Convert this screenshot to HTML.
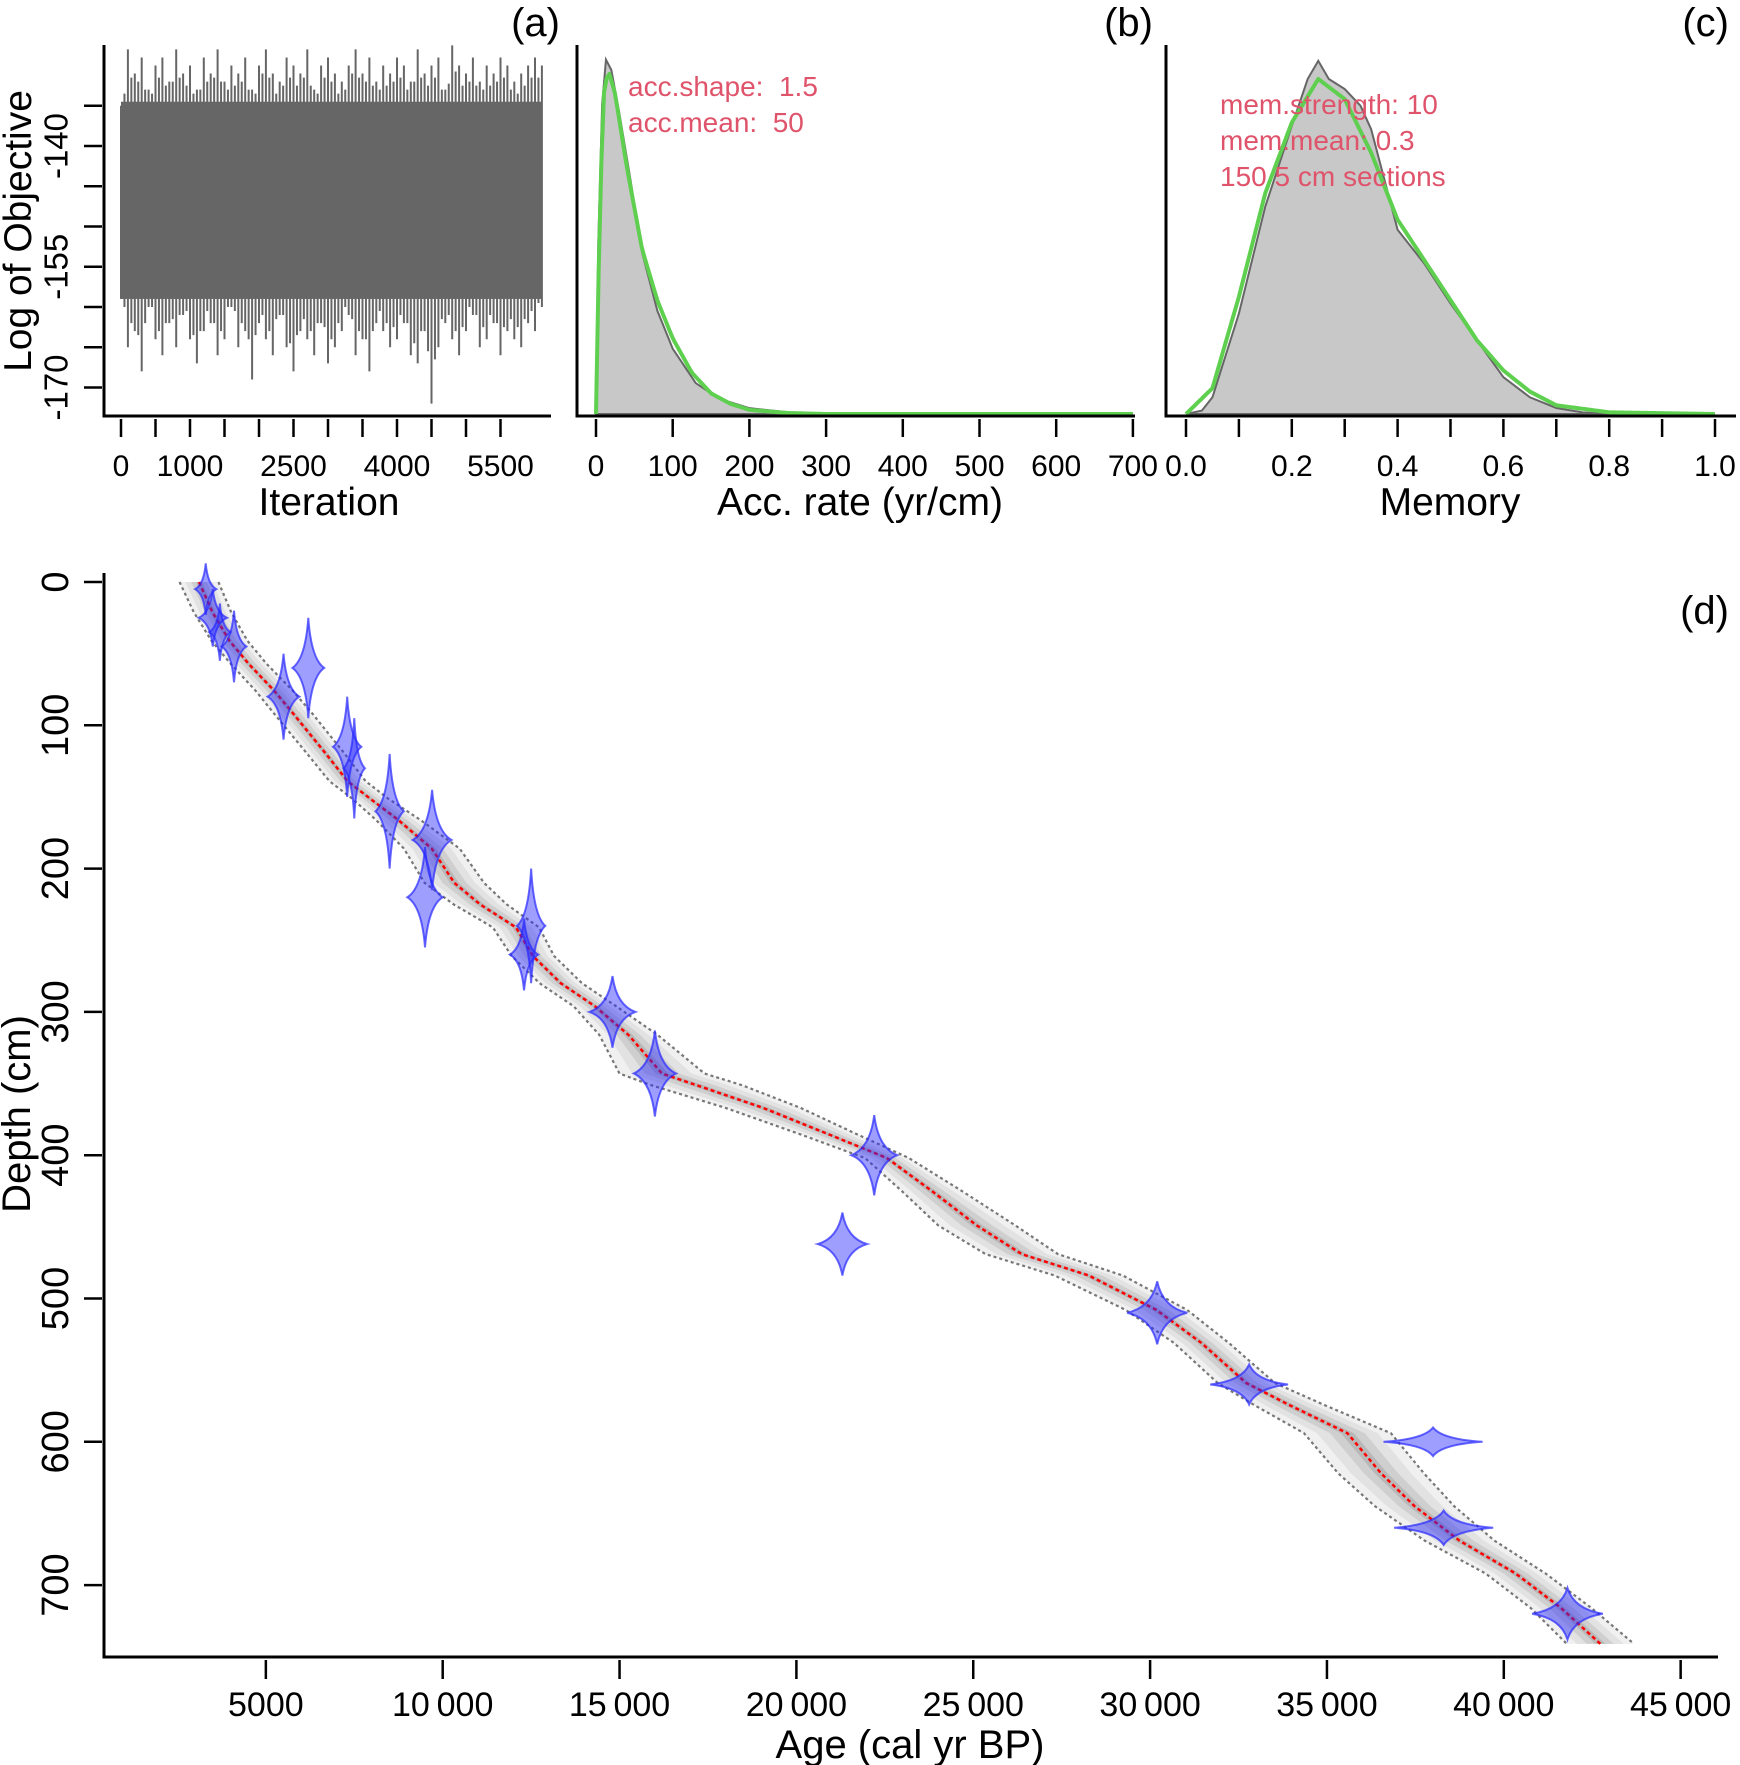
<!DOCTYPE html>
<html><head><meta charset="utf-8"><style>
body{margin:0;background:#fff}
svg{display:block;font-family:"Liberation Sans",Arial,sans-serif}
</style></head><body>
<svg id="fig" width="1740" height="1765" viewBox="0 0 1740 1765" xmlns="http://www.w3.org/2000/svg">
<g id="pa"></g>
<g id="pb"></g>
<g id="pc"></g>
<g id="pd"></g>
</svg>
<script>
// ---------- data ----------
const traceIter = [];
for (let i = 0; i <= 6100; i += 100) traceIter.push(i);
const traceHi = [-135,-128,-131,-129,-133,-130,-129,-132,-128,-131,-130,-133,-129,-131,-128,-132,-130,-131,-129,-133,-130,-128,-131,-132,-129,-130,-131,-128,-133,-130,-129,-131,-132,-130,-128,-131,-129,-132,-130,-131,-129,-130,-132,-128,-131,-130,-129,-133,-127.5,-130,-131,-129,-132,-130,-131,-129,-130,-132,-131,-130,-129,-130];
const traceLo = [-159,-165,-163,-168,-160,-164,-166,-162,-165,-161,-164,-167,-163,-162,-166,-164,-160,-165,-163,-169,-162,-164,-166,-161,-165,-168,-163,-164,-166,-162,-167,-165,-163,-161,-166,-164,-168,-162,-163,-165,-164,-162,-166,-167,-163,-172,-165,-162,-164,-166,-163,-161,-165,-164,-162,-166,-163,-164,-165,-162,-163,-160];
const traceTicks = [-135,-140,-145,-150,-155,-160,-165,-170];
const traceTickLabels = ["-140","-155","-170"];
const iterTicks = [0,500,1000,1500,2000,2500,3000,3500,4000,4500,5000,5500];
const iterTickLabels = ["0","1000","2500","4000","5500"];
const accX = [0,5,10,16,25,40,60,80,100,125,150,175,200,250,300,700];
const accPrior = [0,0.6,0.93,1,0.93,0.72,0.48,0.33,0.22,0.12,0.06,0.03,0.012,0.003,0,0];
const accPostX = [0,3,8,13,20,30,45,60,80,100,130,160,200,250,300,700];
const accPost = [0,0.5,0.9,1.03,1.0,0.88,0.68,0.47,0.3,0.19,0.09,0.045,0.017,0.005,0.001,0];
const accTicks = [0,100,200,300,400,500,600,700];
const memX = [0,0.05,0.1,0.15,0.2,0.25,0.3,0.35,0.4,0.45,0.5,0.55,0.6,0.65,0.7,0.8,1.0];
const memPrior = [0,0.077,0.35,0.66,0.87,1,0.94,0.78,0.58,0.46,0.34,0.22,0.13,0.067,0.026,0.005,0];
const memPostX = [0,0.03,0.05,0.1,0.15,0.2,0.23,0.25,0.27,0.3,0.33,0.35,0.4,0.45,0.5,0.55,0.6,0.65,0.7,0.75,0.8,1.0];
const memPost = [0,0.01,0.05,0.3,0.62,0.86,1.0,1.054,1.0,0.97,0.92,0.85,0.55,0.45,0.33,0.22,0.11,0.05,0.018,0.005,0,0];
const memTicks = [0,0.1,0.2,0.3,0.4,0.5,0.6,0.7,0.8,0.9,1.0];
const memTickLabels = ["0.0","0.2","0.4","0.6","0.8","1.0"];
const modelDepth = [0,21,41,57,76,92,119,139,151,166,186,210,225,241,261,280,296,316,343,351,367,386,402,425,449,469,484,508,531,559,575,594,622,645,669,692,716,741];
const modelAge = [3110,3490,3970,4510,5240,5780,6670,7310,7940,8740,9690,10330,11060,12070,12550,13340,14300,15250,16200,17160,19060,20970,22560,23830,25100,26370,28270,30180,31450,32720,33990,35580,36530,37480,38750,40340,41620,42730];
const bandDepth = [0,50,100,150,200,250,300,350,400,450,500,550,600,650,700,741];
const bandHalf = [550,500,550,500,900,600,600,1300,600,1100,900,700,1300,1100,800,950];
const datAge = [3300,3500,3700,4100,5500,6200,7300,7500,8500,9700,9500,12500,12300,14800,16000,22200,21300,30200,32800,38000,38300,41800];
const datDepth = [5,25,35,45,80,60,115,130,160,180,220,240,260,300,343,400,462,510,560,600,660,720];
const datHalfAge = [300,400,300,350,450,450,400,300,400,550,500,400,400,650,600,650,700,850,1100,1400,1400,1000];
const datHalfDepth = [18,20,20,25,30,35,35,35,40,35,35,40,25,25,30,28,22,22,14,10,12,18];
const ageTicks = [5000,10000,15000,20000,25000,30000,35000,40000,45000];
const ageTickLabels = ["5000","10\u2009000","15\u2009000","20\u2009000","25\u2009000","30\u2009000","35\u2009000","40\u2009000","45\u2009000"];
const depthTicks = [0,100,200,300,400,500,600,700];

// ---------- helpers ----------
const NS = "http://www.w3.org/2000/svg";
function mk(parent, tag, attrs, txt) {
  const e = document.createElementNS(NS, tag);
  for (const k in attrs) e.setAttribute(k, attrs[k]);
  if (txt !== undefined) e.textContent = txt;
  parent.appendChild(e);
  return e;
}
function interp(xs, ys, x) {
  if (x <= xs[0]) return ys[0];
  for (let i = 1; i < xs.length; i++) if (x <= xs[i]) { const t = (x - xs[i-1]) / (xs[i] - xs[i-1]); return ys[i-1] + t * (ys[i] - ys[i-1]); }
  return ys[ys.length - 1];
}
const TICKF = 30, TITLEF = 39, DTICKF = 34;

// ---------- panel a ----------
const pa = document.getElementById('pa');
const ax = v => 121 + v * 0.069;
const ay = v => 146 + (-140 - v) * 8.05;
for (let i = 0; i < traceIter.length; i++) {
  const l = mk(pa, 'line', {x1: ax(traceIter[i]), x2: ax(traceIter[i]), y1: ay(traceHi[i]), y2: ay(traceLo[i]), stroke: '#666', 'stroke-width': 2});
  
  
  if (i < traceIter.length - 1) {
    const xm = ax(traceIter[i] + 50);
    const h2 = (traceHi[i] + traceHi[i+1]) / 2 - 2, l2 = (traceLo[i] + traceLo[i+1]) / 2 + 2;
    const l3 = mk(pa, 'line', {x1: xm, x2: xm, y1: ay(h2), y2: ay(l2), stroke: '#666', 'stroke-width': 2});
    
    
  }
}
const core = mk(pa, 'rect', {x: ax(0), y: ay(-134.5), width: ax(6100) - ax(0), height: ay(-159) - ay(-134.5), fill: '#666'});


mk(pa, 'path', {d: 'M104,45 V416 H551', fill: 'none', stroke: '#000', 'stroke-width': 3,  });
traceTicks.forEach(v => {
  const t = mk(pa, 'line', {x1: 84, x2: 102, y1: ay(v), y2: ay(v), stroke: '#000', 'stroke-width': 2.5});
  
  
});
traceTickLabels.forEach(s => {
  const v = +s;
  const t = mk(pa, 'text', {x: 56, y: ay(v), 'font-size': 33, 'text-anchor': 'middle', 'dominant-baseline': 'central', transform: `rotate(-90 56 ${ay(v)})`}, s);
  
  
});
iterTicks.forEach(v => {
  const t = mk(pa, 'line', {x1: ax(v), x2: ax(v), y1: 419, y2: 437, stroke: '#000', 'stroke-width': 2.5});
  
  
});
iterTickLabels.forEach(s => {
  const t = mk(pa, 'text', {x: ax(+s), y: 476, 'font-size': TICKF, 'text-anchor': 'middle'}, s);
  
  
});
mk(pa, 'text', {x: 329, y: 515, 'font-size': TITLEF, 'text-anchor': 'middle',  }, 'Iteration');
mk(pa, 'text', {x: 31, y: 231, 'font-size': TITLEF, 'text-anchor': 'middle', transform: 'rotate(-90 31 231)',  }, 'Log of Objective');
mk(pa, 'text', {x: 560, y: 36, 'font-size': 40, 'text-anchor': 'end',  }, '(a)');

function densityPanel(g, xs, prior, pxs, post, X, base, peakY, name) {
  const Y = v => base - v * (base - peakY);
  let d = `M${X(pxs[0])},${base}`;
  pxs.forEach((x, i) => d += ` L${X(x)},${Y(post[i])}`);
  d += ` L${X(pxs[pxs.length-1])},${base} Z`;
  const p = mk(g, 'path', {d: d, fill: '#c8c8c8', stroke: '#666', 'stroke-width': 2});
  
  
  let d2 = '';
  const N = 200, x0 = xs[0], x1 = xs[xs.length-1];
  for (let k = 0; k <= N; k++) { const x = x0 + (x1 - x0) * k / N; d2 += (k ? ' L' : 'M') + X(x) + ',' + Y(interp(xs, prior, x)); }
  const q = mk(g, 'path', {d: d2, fill: 'none', stroke: '#5fcf4f', 'stroke-width': 4, 'stroke-linejoin': 'round'});
  
  
}

// ---------- panel b ----------
const pb = document.getElementById('pb');
const bx = v => 596 + v * 0.767;
densityPanel(pb, accX, accPrior, accPostX, accPost, bx, 414, 70, 'acc-rate');
mk(pb, 'path', {d: 'M577,45 V416 H1135', fill: 'none', stroke: '#000', 'stroke-width': 3,  });
accTicks.forEach(v => {
  const t = mk(pb, 'line', {x1: bx(v), x2: bx(v), y1: 419, y2: 437, stroke: '#000', 'stroke-width': 2.5});
  
  
  const s = mk(pb, 'text', {x: bx(v), y: 476, 'font-size': TICKF, 'text-anchor': 'middle'}, String(v));
  
  
});
mk(pb, 'text', {x: 860, y: 515, 'font-size': TITLEF, 'text-anchor': 'middle',  }, 'Acc. rate (yr/cm)');
mk(pb, 'text', {x: 628, y: 96, 'font-size': 28, fill: '#df536b',  }, 'acc.shape:\u00a0\u00a01.5');
mk(pb, 'text', {x: 628, y: 132, 'font-size': 28, fill: '#df536b',  }, 'acc.mean:\u00a0\u00a050');
mk(pb, 'text', {x: 1153, y: 36, 'font-size': 40, 'text-anchor': 'end',  }, '(b)');

// ---------- panel c ----------
const pc = document.getElementById('pc');
const cx = v => 1186 + v * 529;
densityPanel(pc, memX, memPrior, memPostX, memPost, cx, 414, 79, 'memory');
mk(pc, 'path', {d: 'M1166,45 V416 H1736', fill: 'none', stroke: '#000', 'stroke-width': 3,  });
memTicks.forEach(v => {
  const t = mk(pc, 'line', {x1: cx(v), x2: cx(v), y1: 419, y2: 437, stroke: '#000', 'stroke-width': 2.5});
  
  
});
memTickLabels.forEach(s => {
  const t = mk(pc, 'text', {x: cx(+s), y: 476, 'font-size': TICKF, 'text-anchor': 'middle'}, s);
  
  
});
mk(pc, 'text', {x: 1450, y: 515, 'font-size': TITLEF, 'text-anchor': 'middle',  }, 'Memory');
mk(pc, 'text', {x: 1220, y: 114, 'font-size': 28, fill: '#df536b',  }, 'mem.strength: 10');
mk(pc, 'text', {x: 1220, y: 150, 'font-size': 28, fill: '#df536b',  }, 'mem.mean: 0.3');
mk(pc, 'text', {x: 1220, y: 186, 'font-size': 28, fill: '#df536b',  }, '150 5 cm sections');
mk(pc, 'text', {x: 1729, y: 36, 'font-size': 40, 'text-anchor': 'end',  }, '(c)');

// ---------- panel d ----------
const pd = document.getElementById('pd');
const dx = a => 89 + a * 0.03537;
const dy = d => 582 + d * 1.433;
function bandPath(scale) {
  let up = '', dn = '';
  const pts = [];
  for (let i = 0; i < modelDepth.length; i++) {
    const h = interp(bandDepth, bandHalf, modelDepth[i]) * scale;
    pts.push([modelAge[i] - h, modelAge[i] + h, modelDepth[i]]);
  }
  pts.forEach((p, i) => up += (i ? ' L' : 'M') + dx(p[0]) + ',' + dy(p[2]));
  for (let i = pts.length - 1; i >= 0; i--) dn += ' L' + dx(pts[i][1]) + ',' + dy(pts[i][2]);
  return up + dn + ' Z';
}
[[1, '#f0f0f0'], [0.7, '#e2e2e2'], [0.4, '#cfcfcf'], [0.15, '#b8b8b8']].forEach(([s, c]) => {
  const p = mk(pd, 'path', {d: bandPath(s), fill: c, stroke: 'none'});
  
  
});
['lo', 'hi'].forEach((side, j) => {
  let d = '';
  modelDepth.forEach((dep, i) => {
    const h = interp(bandDepth, bandHalf, dep);
    const a = j ? modelAge[i] + h : modelAge[i] - h;
    d += (i ? ' L' : 'M') + dx(a) + ',' + dy(dep);
  });
  const p = mk(pd, 'path', {d: d, fill: 'none', stroke: '#777', 'stroke-width': 2.2, 'stroke-dasharray': '3 3'});
  
  
});
let md = '';
modelDepth.forEach((dep, i) => md += (i ? ' L' : 'M') + dx(modelAge[i]) + ',' + dy(dep));
mk(pd, 'path', {d: md, fill: 'none', stroke: '#ff0000', 'stroke-width': 2.5, 'stroke-dasharray': '4 3',  });
datAge.forEach((a, i) => {
  const x = dx(a), y = dy(datDepth[i]);
  const w = datHalfAge[i] * 0.03537, h = datHalfDepth[i] * 1.433;
  const k = 0.18;
  const d = `M${x},${y-h} Q${x+w*k},${y-h*k} ${x+w},${y} Q${x+w*k},${y+h*k} ${x},${y+h} Q${x-w*k},${y+h*k} ${x-w},${y} Q${x-w*k},${y-h*k} ${x},${y-h} Z`;
  const p = mk(pd, 'path', {d: d, fill: 'rgba(40,40,255,0.45)', stroke: 'rgba(40,40,255,0.7)', 'stroke-width': 2});
  
  
});
mk(pd, 'path', {d: 'M104,573 V1657 H1718', fill: 'none', stroke: '#000', 'stroke-width': 3,  });
ageTicks.forEach((v, i) => {
  const t = mk(pd, 'line', {x1: dx(v), x2: dx(v), y1: 1660, y2: 1679, stroke: '#000', 'stroke-width': 2.5});
  
  
  const s = mk(pd, 'text', {x: dx(v), y: 1716, 'font-size': DTICKF, 'text-anchor': 'middle'}, ageTickLabels[i]);
  
  
});
depthTicks.forEach(v => {
  const t = mk(pd, 'line', {x1: 84, x2: 102, y1: dy(v), y2: dy(v), stroke: '#000', 'stroke-width': 2.5});
  
  
  const s = mk(pd, 'text', {x: 56, y: dy(v), 'font-size': 38, 'text-anchor': 'middle', 'dominant-baseline': 'central', transform: `rotate(-90 56 ${dy(v)})`}, String(v));
  
  
});
mk(pd, 'text', {x: 910, y: 1758, 'font-size': 40, 'text-anchor': 'middle',  }, 'Age (cal yr BP)');
mk(pd, 'text', {x: 30, y: 1114, 'font-size': 40, 'text-anchor': 'middle', transform: 'rotate(-90 30 1114)',  }, 'Depth (cm)');
mk(pd, 'text', {x: 1729, y: 624, 'font-size': 40, 'text-anchor': 'end',  }, '(d)');
</script>
</body></html>
